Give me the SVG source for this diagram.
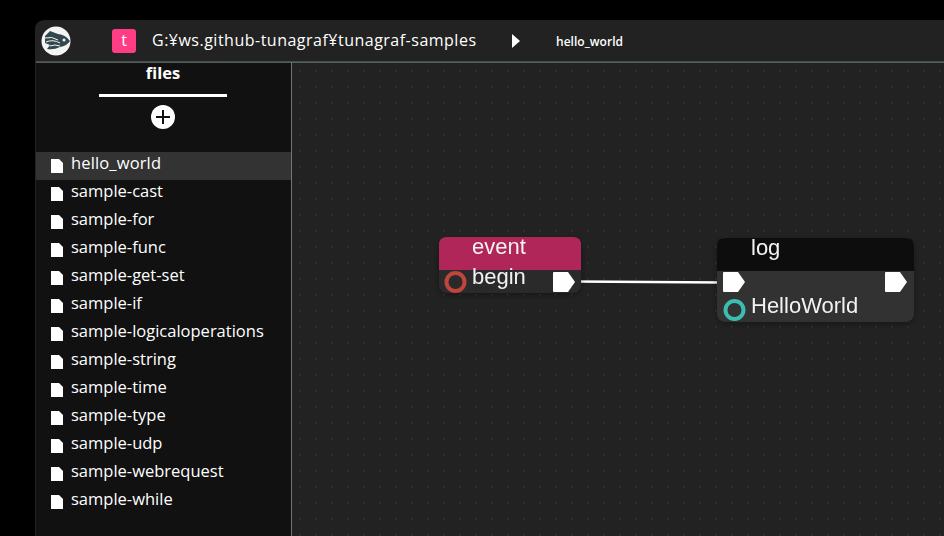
<svg xmlns="http://www.w3.org/2000/svg" width="944" height="536" viewBox="0 0 944 536">
<style>
.ui{font-family:"Open Sans","Noto Sans",sans-serif;fill:#fff}
.f{font-size:16.500px}
.n{font-family:"Liberation Sans",Arial,sans-serif;font-size:22px;fill:#f2f2f2}
</style>
<defs>
<pattern id="dots" x="291" y="62" width="16" height="16" patternUnits="userSpaceOnUse">
<rect x="8" y="8" width="1.400" height="1.400" fill="#3c3c3c"/>
</pattern>
<path id="file" d="M0 0H8L12 4V14H0Z" fill="#fff"/>
<path id="pin" d="M0 1Q0 0 1 0H15L22 10L15 20H1Q0 20 0 19Z" fill="#fff"/>
<filter id="sh" x="-10%" y="-10%" width="120%" height="120%"><feGaussianBlur stdDeviation="3"/></filter>
<filter id="soft" x="-5%" y="-5%" width="110%" height="110%"><feGaussianBlur stdDeviation="0.350"/></filter>
</defs>
<rect width="944" height="536" fill="#000"/>
<path d="M35 536V30Q35 20 45 20H944V536Z" fill="#222"/>
<g id="canvas">
<rect x="291" y="62" width="653" height="474" fill="#222"/>
<rect x="291" y="62" width="653" height="474" fill="url(#dots)"/>
</g>
<g id="sidebar">
<rect x="36" y="62" width="255" height="474" fill="#111"/>
<rect x="36" y="152" width="255" height="28" fill="#333"/>
<rect x="291" y="62" width="1" height="474" fill="#6b7a78"/>
<rect x="36" y="61.500" width="908" height="1.200" fill="#6b7a78"/>
<text class="ui" x="163" y="78.500" font-size="16.500" font-weight="700" text-anchor="middle">files</text>
<rect x="99" y="94" width="128" height="3" fill="#fff"/>
<circle cx="163" cy="117" r="12" fill="#fff"/>
<path d="M156 117H170M163 110V124" stroke="#111" stroke-width="2" fill="none"/>
<g id="files">
<use href="#file" x="51" y="159"/><text class="ui f" x="71" y="169" textLength="90">hello_world</text>
<use href="#file" x="51" y="187"/><text class="ui f" x="71" y="197">sample-cast</text>
<use href="#file" x="51" y="215"/><text class="ui f" x="71" y="225">sample-for</text>
<use href="#file" x="51" y="243"/><text class="ui f" x="71" y="253">sample-func</text>
<use href="#file" x="51" y="271"/><text class="ui f" x="71" y="281">sample-get-set</text>
<use href="#file" x="51" y="299"/><text class="ui f" x="71" y="309">sample-if</text>
<use href="#file" x="51" y="327"/><text class="ui f" x="71" y="337">sample-logicaloperations</text>
<use href="#file" x="51" y="355"/><text class="ui f" x="71" y="365">sample-string</text>
<use href="#file" x="51" y="383"/><text class="ui f" x="71" y="393">sample-time</text>
<use href="#file" x="51" y="411"/><text class="ui f" x="71" y="421">sample-type</text>
<use href="#file" x="51" y="439"/><text class="ui f" x="71" y="449">sample-udp</text>
<use href="#file" x="51" y="467"/><text class="ui f" x="71" y="477">sample-webrequest</text>
<use href="#file" x="51" y="495"/><text class="ui f" x="71" y="505">sample-while</text>
</g>
</g>
<g id="header">
<circle cx="56" cy="41" r="14.500" fill="#f4f4f4"/>
<path d="M45 36L50 31L58 34Q66 35 70 41Q67 46 60 47Q54 50 47 49L50 45L45 43Z" fill="#33474f"/>
<path d="M45 38Q52 36 58 40M46 42Q53 39 60 43M50 46Q55 44 60 46" stroke="#f4f4f4" stroke-width="1" fill="none"/>
<circle cx="64" cy="40" r="1.500" fill="#f4f4f4"/>
<rect x="112" y="29" width="24" height="24" rx="3" fill="#ff3d85"/>
<text class="ui" x="124" y="46" font-size="16" text-anchor="middle">t</text>
<text class="ui" x="152" y="46" font-size="16" textLength="324">G:¥ws.github-tunagraf¥tunagraf-samples</text>
<path d="M512 34L520 41L512 48Z" fill="#fff"/>
<text class="ui" x="556" y="46" font-size="12" font-weight="600" textLength="67">hello_world</text>
</g>
<g id="connectors">
<path d="M575 281.500L723 282.500" stroke="#fff" stroke-width="2.500" fill="none"/>
</g>
<g id="node-event" filter="url(#soft)">
<rect x="439" y="240" width="142" height="55" rx="8" fill="#000" opacity=".35" filter="url(#sh)"/>
<rect x="439" y="237" width="142" height="56" rx="8" fill="#2b2b2b"/>
<path d="M439 270V245Q439 237 447 237H573Q581 237 581 245V270Z" fill="#b12658"/>
<text class="n" x="472" y="254">event</text>
<text class="n" x="472" y="284">begin</text>
<circle cx="455.500" cy="282" r="9" fill="none" stroke="#c0443c" stroke-width="4"/>
<use href="#pin" x="553" y="272"/>
</g>
<g id="node-log" filter="url(#soft)">
<rect x="717" y="241" width="197" height="83" rx="8" fill="#000" opacity=".35" filter="url(#sh)"/>
<rect x="717" y="238" width="197" height="84" rx="8" fill="#303030"/>
<path d="M717 271V246Q717 238 725 238H906Q914 238 914 246V271Z" fill="#111"/>
<text class="n" x="751" y="255">log</text>
<text class="n" x="751" y="313">HelloWorld</text>
<circle cx="734.500" cy="310" r="9" fill="none" stroke="#3cbdb0" stroke-width="4"/>
<use href="#pin" x="723" y="272"/>
<use href="#pin" x="885" y="272"/>
</g>
</svg>
